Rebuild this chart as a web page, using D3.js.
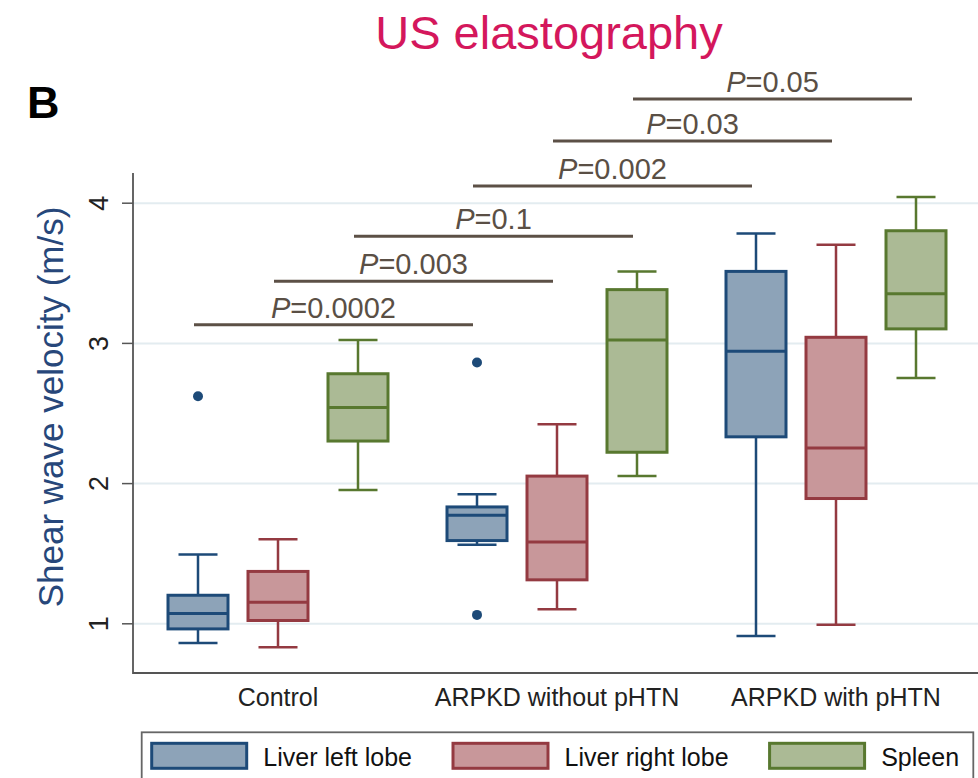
<!DOCTYPE html>
<html>
<head>
<meta charset="utf-8">
<script src="https://cdn.jsdelivr.net/npm/d3@7"></script>
<style>
  body { margin: 0; background: #fff; }
  svg { display: block; font-family: Arial, "Liberation Sans", sans-serif; }
</style>
</head>
<body>
<svg id="chart" width="978" height="778"></svg>
<script>
const groups = ["Control", "ARPKD without pHTN", "ARPKD with pHTN"];
const series = ["Liver left lobe", "Liver right lobe", "Spleen"];

// per group: [lower whisker, q1, median, q3, upper whisker]
const liverLeft = [
    [0.86, 0.96, 1.07, 1.20, 1.49],
    [1.56, 1.59, 1.77, 1.83, 1.92],
    [0.91, 2.33, 2.94, 3.51, 3.78]
];
const liverRight = [
    [0.83, 1.02, 1.15, 1.37, 1.60],
    [1.10, 1.31, 1.58, 2.05, 2.42],
    [0.99, 1.89, 2.25, 3.04, 3.70]
];
const spleen = [
    [1.95, 2.30, 2.54, 2.78, 3.02],
    [2.05, 2.22, 3.02, 3.38, 3.51],
    [2.75, 3.10, 3.35, 3.80, 4.04]
];

const outlierGroups = ["Control", "ARPKD without pHTN", "ARPKD without pHTN"];
const outlierSeries = ["Liver left lobe", "Liver left lobe", "Liver left lobe"];
const outlierValues = [2.62, 2.86, 1.06];

// significance bars: from group, to group, series, height (m/s), label
const cmpFrom = ["Control", "Control", "Control", "ARPKD without pHTN", "ARPKD without pHTN", "ARPKD without pHTN"];
const cmpTo = ["ARPKD without pHTN", "ARPKD without pHTN", "ARPKD without pHTN", "ARPKD with pHTN", "ARPKD with pHTN", "ARPKD with pHTN"];
const cmpSeries = ["Liver left lobe", "Liver right lobe", "Spleen", "Liver left lobe", "Liver right lobe", "Spleen"];
const cmpLevel = [3.13, 3.44, 3.76, 4.12, 4.44, 4.74];
const cmpP = ["0.0002", "0.003", "0.1", "0.002", "0.03", "0.05"];

const yTicks = [1, 2, 3, 4];

const colors = {
    "Liver left lobe": { fill: "#8da3b8", stroke: "#1d4a78" },
    "Liver right lobe": { fill: "#c8979a", stroke: "#943a41" },
    "Spleen": { fill: "#abba95", stroke: "#58782f" }
};

const svg = d3.select("#chart");

const plotLeft = 133, plotRight = 978, plotBottom = 673, plotTop = 173;

const y = d3.scaleLinear().domain([1, 4]).range([623.3, 202.7]);
const x = d3.scaleBand().domain(groups).range([138.5, 975.5]).padding(0);
const xs = d3.scaleBand().domain(series).range([-120, 120])
    .paddingInner(0.25).paddingOuter(0.125);

const center = (g, s) => x(g) + x.bandwidth() / 2 + xs(s) + xs.bandwidth() / 2;

// title and panel letter
svg.append("text")
    .attr("x", 549).attr("y", 49)
    .attr("text-anchor", "middle")
    .style("font-size", "47px")
    .style("fill", "#d4175c")
    .text("US elastography");

svg.append("text")
    .attr("x", 27).attr("y", 118)
    .style("font-size", "45px")
    .style("font-weight", "bold")
    .style("fill", "#000")
    .text("B");

// gridlines
svg.append("g")
    .attr("transform", `translate(${plotLeft},0)`)
    .call(d3.axisLeft(y).tickValues(yTicks).tickSize(-(plotRight - plotLeft)).tickFormat(""))
    .call(g => g.select(".domain").remove())
    .call(g => g.selectAll("line").attr("stroke", "#e3ecf0").attr("stroke-width", 2));

// y axis
svg.append("g")
    .attr("transform", `translate(${plotLeft},0)`)
    .call(d3.axisLeft(y).tickValues(yTicks).tickSize(11).tickFormat(d3.format("d")))
    .call(g => g.select(".domain").remove())
    .call(g => g.selectAll("line").attr("stroke", "#555").attr("stroke-width", 1.5))
    .call(g => g.selectAll("text")
        .attr("transform", "rotate(-90)")
        .attr("x", 0).attr("y", -25).attr("dy", 0)
        .style("text-anchor", "middle")
        .style("font-size", "27px")
        .style("fill", "#222"));

svg.append("path")
    .attr("d", `M${plotLeft},${plotTop}V${plotBottom}H${plotRight}`)
    .attr("fill", "none")
    .attr("stroke", "#555")
    .attr("stroke-width", 1.8);

svg.append("text")
    .attr("transform", "translate(63,407) rotate(-90)")
    .attr("text-anchor", "middle")
    .style("font-size", "35px")
    .style("fill", "#27477a")
    .text("Shear wave velocity (m/s)");

// category labels
svg.append("g").selectAll("text")
    .data(groups)
    .enter()
    .append("text")
    .attr("x", (d) => x(d) + x.bandwidth() / 2)
    .attr("y", 706)
    .attr("text-anchor", "middle")
    .style("font-size", "25px")
    .style("fill", "#222")
    .text((d) => d);

// boxes
const boxData = [];
[liverLeft, liverRight, spleen].forEach(function (rows, si) {
    rows.forEach(function (v, gi) {
        boxData.push({ group: groups[gi], series: series[si], stats: v });
    });
});

const bw = xs.bandwidth();
const capW = bw * 0.65;

const boxes = svg.append("g").selectAll("g")
    .data(boxData)
    .enter()
    .append("g")
    .attr("transform", (d) => `translate(${center(d.group, d.series)},0)`);

boxes.append("path")
    .attr("d", function (d) {
        const [lo, q1, , q3, hi] = d.stats;
        return `M0,${y(hi)}V${y(q3)}M0,${y(q1)}V${y(lo)}` +
            `M${-capW / 2},${y(hi)}H${capW / 2}M${-capW / 2},${y(lo)}H${capW / 2}`;
    })
    .attr("fill", "none")
    .attr("stroke", (d) => colors[d.series].stroke)
    .attr("stroke-width", 2.5);

boxes.append("rect")
    .attr("x", -bw / 2)
    .attr("y", (d) => y(d.stats[3]))
    .attr("width", bw)
    .attr("height", (d) => y(d.stats[1]) - y(d.stats[3]))
    .attr("fill", (d) => colors[d.series].fill)
    .attr("stroke", (d) => colors[d.series].stroke)
    .attr("stroke-width", 3);

boxes.append("line")
    .attr("x1", -bw / 2).attr("x2", bw / 2)
    .attr("y1", (d) => y(d.stats[2])).attr("y2", (d) => y(d.stats[2]))
    .attr("stroke", (d) => colors[d.series].stroke)
    .attr("stroke-width", 3);

// outliers
svg.append("g").selectAll("circle")
    .data(outlierValues)
    .enter()
    .append("circle")
    .attr("cx", (d, i) => center(outlierGroups[i], outlierSeries[i]))
    .attr("cy", (d) => y(d))
    .attr("r", 5)
    .attr("fill", "#1d4a78");

// significance bars
const nudge = -4;
const cmp = svg.append("g").selectAll("g")
    .data(cmpP)
    .enter()
    .append("g");

cmp.append("line")
    .attr("x1", (d, i) => center(cmpFrom[i], cmpSeries[i]) + nudge)
    .attr("x2", (d, i) => center(cmpTo[i], cmpSeries[i]) + nudge)
    .attr("y1", (d, i) => y(cmpLevel[i]))
    .attr("y2", (d, i) => y(cmpLevel[i]))
    .attr("stroke", "#5c5046")
    .attr("stroke-width", 3);

const pText = cmp.append("text")
    .attr("x", (d, i) => (center(cmpFrom[i], cmpSeries[i]) + center(cmpTo[i], cmpSeries[i])) / 2 + nudge)
    .attr("y", (d, i) => y(cmpLevel[i]) - 7)
    .attr("text-anchor", "middle")
    .style("font-size", "29px")
    .style("fill", "#5a4f45");
pText.append("tspan").style("font-style", "italic").text("P");
pText.append("tspan").text((d) => "=" + d);

// legend
const legend = svg.append("g");
legend.append("rect")
    .attr("x", 141.7).attr("y", 732.3)
    .attr("width", 831.6).attr("height", 70)
    .attr("fill", "#fff")
    .attr("stroke", "#666")
    .attr("stroke-width", 1.8);

let lx = 151.7;
series.forEach(function (s) {
    legend.append("rect")
        .attr("x", lx).attr("y", 743.3)
        .attr("width", 95).attr("height", 25)
        .attr("fill", colors[s].fill)
        .attr("stroke", colors[s].stroke)
        .attr("stroke-width", 3);
    const t = legend.append("text")
        .attr("x", lx + 111.6).attr("y", 766)
        .style("font-size", "25px")
        .style("fill", "#111")
        .text(s);
    lx += 111.6 + t.node().getComputedTextLength() + 41;
});
</script>
</body>
</html>
